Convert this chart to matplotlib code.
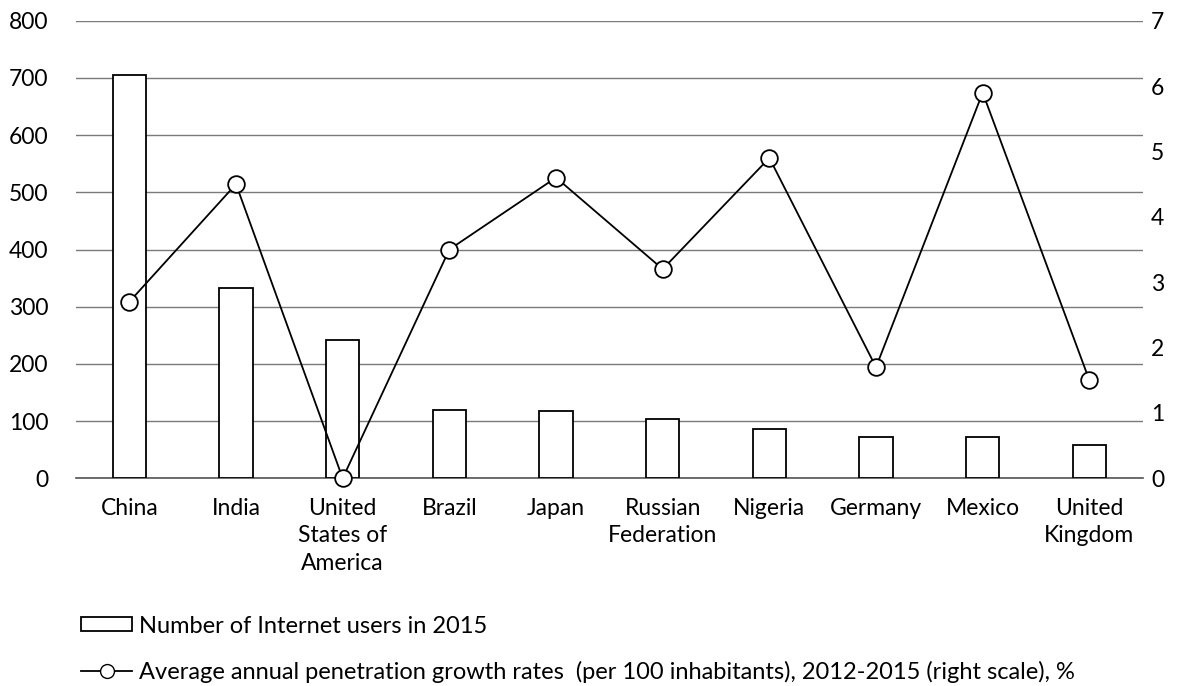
import matplotlib.pyplot as plt
import numpy as np
from matplotlib.lines import Line2D
from matplotlib.patches import Patch

countries = ["China", "India", "United\nStates of\nAmerica", "Brazil", "Japan",
             "Russian\nFederation", "Nigeria", "Germany", "Mexico", "United\nKingdom"]
users_2015 = [705, 333, 242, 120, 118, 104, 87, 73, 73, 58]
growth_rate = [2.7, 4.5, 0.0, 3.5, 4.6, 3.2, 4.9, 1.7, 5.9, 1.5]

plt.rcParams["font.family"] = ["Lato", "DejaVu Sans"]
plt.rcParams["font.size"] = 16.5

fig = plt.figure(figsize=(11.84, 6.86), dpi=100)
ax = fig.add_axes([76 / 1184, 1 - 478.3 / 686, (1142.7 - 76) / 1184, (478.3 - 20.7) / 686])
x = np.arange(len(countries))

ax.bar(x, users_2015, width=0.31, color="white", edgecolor="black", linewidth=1.3, zorder=3)
ax.set_xlim(-0.5, len(countries) - 0.5)
ax.set_ylim(0, 800)
ax.set_yticks(range(0, 801, 100))
ax.set_xticks(x)
ax.set_xticklabels(countries, linespacing=1.38)
ax.grid(axis="y", color="#7a7a7a", linewidth=1.0, zorder=0)
ax.set_axisbelow(True)
for side in ["top", "left", "right"]:
    ax.spines[side].set_visible(False)
ax.spines["bottom"].set_color("#555555")
ax.spines["bottom"].set_linewidth(1.2)
ax.tick_params(axis="y", length=0, pad=20)
ax.tick_params(axis="x", length=0, pad=14)

ax2 = ax.twinx()
ax2.plot(x, growth_rate, color="black", linewidth=1.3, marker="o", markersize=12,
         markerfacecolor="white", markeredgecolor="black", markeredgewidth=1.3,
         zorder=5, clip_on=False)
ax2.set_ylim(0, 7)
ax2.set_yticks(range(0, 8))
for side in ["top", "left", "right", "bottom"]:
    ax2.spines[side].set_visible(False)
ax2.tick_params(axis="y", length=0, pad=6)

handles = [
    Patch(facecolor="white", edgecolor="black", linewidth=1.3),
    Line2D([], [], color="black", linewidth=1.3, marker="o", markersize=10,
           markerfacecolor="white", markeredgecolor="black"),
]
labels = [
    "Number of Internet users in 2015",
    "Average annual penetration growth rates  (per 100 inhabitants), 2012-2015 (right scale), %",
]
fig.legend(handles, labels, loc="lower left", bbox_to_anchor=(60 / 1184, -18 / 686),
           frameon=False, handlelength=2.15, handleheight=0.55, handletextpad=0.3,
           labelspacing=1.02, fontsize=17)

fig.savefig("out.png", dpi=100)
